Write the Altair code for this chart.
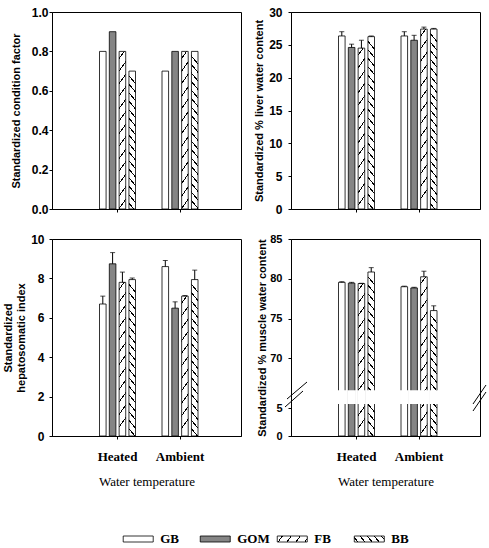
import altair as alt
import numpy as np
import pandas as pd

groups = ["Heated", "Ambient"]
series = ["GB", "GOM", "FB", "BB"]

cf_heated = [0.80, 0.90, 0.80, 0.70]
cf_ambient = [0.70, 0.80, 0.80, 0.80]

liver_heated = [26.35, 24.6, 24.5, 26.25]
liver_heated_se = [0.65, 0.5, 1.2, 0.1]
liver_ambient = [26.35, 25.7, 27.4, 27.4]
liver_ambient_se = [0.65, 0.75, 0.3, 0.1]

hsi_heated = [6.7, 8.74, 7.8, 7.94]
hsi_heated_se = [0.4, 0.57, 0.52, 0.08]
hsi_ambient = [8.6, 6.49, 7.1, 7.94]
hsi_ambient_se = [0.31, 0.32, 0.03, 0.48]

muscle_heated = [79.55, 79.45, 79.4, 80.85]
muscle_heated_se = [0.08, 0.1, 0.03, 0.55]
muscle_ambient = [79.0, 78.85, 80.25, 76.0]
muscle_ambient_se = [0.07, 0.08, 0.7, 0.6]

PW, PH = 189, 197
XPI, XPO, XALIGN = 0.424, 0.724, 0.525
OPI = 0.33
GOM_FILL = "#858585"
SANS = "Liberation Sans"
SERIF = "Liberation Serif"

# bar width in px (for hatch angle)
_step = PW / (2 - XPI + 2 * XPO)
_bw = _step * (1 - XPI)
BW = _bw / (4 - OPI) * (1 - OPI)

HATCH = {"FB": ("/", 12.5, 1.4), "BB": ("\\", 8.5, 1.2)}


def hatch(w, h, direction, spacing, k=1.0, lw=1.6):
    a = k * w / h
    x1, x2 = (0.0, a) if direction == "/" else (a, 0.0)
    norm = h * (1 + a * a)
    period = spacing / norm
    line = lw / norm
    stops = []
    t = period / 2
    stops.append((0.0, "white"))
    while t < 1.0:
        s1 = min(t + line, 1.0)
        stops += [(t, "white"), (t, "black"), (s1, "black"), (s1, "white")]
        t += period
    stops.append((1.0, "white"))
    return alt.LinearGradient(
        gradient="linear", x1=x1, y1=0, x2=x2, y2=1,
        stops=[alt.GradientStop(offset=round(o, 6), color=c) for o, c in stops],
    )


def frame(h, a, hse=None, ase=None):
    rows = []
    for g, vals, ses in [("Heated", h, hse), ("Ambient", a, ase)]:
        for i, s in enumerate(series):
            se = ses[i] if ses else 0.0
            rows.append({"group": g, "series": s, "value": vals[i],
                         "top": vals[i] + se, "se": se})
    return pd.DataFrame(rows)


def panel(df, dom, rng, ticks, title, fmt, bottom, label_size, label_pad,
          title_pad, gap=None, breaks=None):
    yscale = alt.Scale(domain=dom, range=rng, nice=False)
    xscale = alt.Scale(domain=groups, paddingInner=XPI, paddingOuter=XPO, align=XALIGN)
    oscale = alt.Scale(domain=series, paddingInner=OPI, paddingOuter=0)
    yaxis = alt.Axis(title=title, values=ticks, format=fmt, grid=False,
                     labelFont=SANS, labelFontWeight="bold", labelFontSize=label_size,
                     titleFont=SANS, titleFontWeight="bold", titleFontSize=11,
                     tickSize=3, labelPadding=label_pad, titlePadding=title_pad)
    if bottom:
        xaxis = alt.Axis(title="Water temperature", labelAngle=0, grid=False,
                         labelFont=SERIF, labelFontSize=13, labelFontWeight="bold",
                         titleFont=SERIF, titleFontSize=13, titleFontWeight="normal",
                         tickSize=3, labelPadding=11, titlePadding=12)
    else:
        xaxis = alt.Axis(title="", labels=False, tickSize=3, grid=False)

    enc = dict(
        x=alt.X("group:N", sort=groups, scale=xscale, axis=xaxis),
        xOffset=alt.XOffset("series:N", sort=series, scale=oscale),
    )

    def y(field):
        return alt.Y(f"{field}:Q", scale=yscale, axis=yaxis)

    def ypix(v):
        return float(np.interp(v, dom, rng))

    layers = []
    layers.append(
        alt.Chart(df).mark_bar(stroke="black", strokeWidth=0.8)
        .encode(**enc, y=y("value"),
                fill=alt.Fill("series:N", scale=alt.Scale(domain=["GB", "GOM"], range=["white", GOM_FILL]), legend=None))
        .transform_filter(alt.FieldOneOfPredicate(field="series", oneOf=["GB", "GOM"]))
    )
    for g in groups:
        for s in ["FB", "BB"]:
            v = float(df.loc[(df.group == g) & (df.series == s), "value"].iloc[0])
            h = ypix(dom[0]) - ypix(v)
            d, sp, k = HATCH[s]
            layers.append(
                alt.Chart(df).mark_bar(fill=hatch(BW, h, d, sp, k), stroke="black", strokeWidth=0.8)
                .encode(**enc, y=y("value"))
                .transform_filter((alt.datum.group == g) & (alt.datum.series == s))
            )
    if gap is not None:
        layers.append(
            alt.Chart(df).mark_bar(fill="white", stroke="white", strokeWidth=2)
            .encode(**enc, y=alt.YDatum(gap[1], type="quantitative", scale=yscale, axis=yaxis),
                    y2=alt.Y2Datum(gap[0]))
        )
    if (df.se > 0).any():
        edf = df[df.se > 0]
        layers.append(
            alt.Chart(edf).mark_rule(color="black", strokeWidth=1)
            .encode(**enc, y=y("value"), y2=alt.Y2("top:Q"))
        )
        layers.append(
            alt.Chart(edf).mark_tick(color="black", thickness=1, size=5)
            .encode(**enc, y=y("top"))
        )
    if breaks:
        one = pd.DataFrame({"k": [0]})
        for (xa, ya, xb, yb) in breaks:
            layers.append(
                alt.Chart(one).mark_rule(color="black", strokeWidth=1)
                .encode(x=alt.value(xa), y=alt.value(ya), x2=alt.value(xb), y2=alt.value(yb))
            )
    return alt.layer(*layers).properties(width=PW, height=PH)


p1 = panel(frame(cf_heated, cf_ambient), [0, 1], [PH, 0],
           [0, 0.2, 0.4, 0.6, 0.8, 1.0], "Standardized condition factor", ".1f",
           False, 12, 1, 10)
p2 = panel(frame(liver_heated, liver_ambient, liver_heated_se, liver_ambient_se),
           [0, 30], [PH, 0], [0, 5, 10, 15, 20, 25, 30],
           "Standardized % liver water content", "d", False, 12, 6, 4)
p3 = panel(frame(hsi_heated, hsi_ambient, hsi_heated_se, hsi_ambient_se),
           [0, 10], [PH, 0], [0, 2, 4, 6, 8, 10],
           ["Standardized", "hepatosomatic index"], "d", True, 12, 5, 4)
p4 = panel(frame(muscle_heated, muscle_ambient, muscle_heated_se, muscle_ambient_se),
           [0, 5, 70, 85], [PH, 169, 119.3, 0], [0, 5, 70, 75, 80, 85],
           "Standardized % muscle water content", "d", True, 11, 6, 2,
           gap=(11.4, 27),
           breaks=[(-4, 160, 16, 143), (-6, 168, 12, 152),
                   (182, 165, 195, 146), (182, 172, 195, 153)])

# legend (swatches placed on a point scale over the series names)
leg_df = pd.DataFrame({"series": series})
lx = alt.X("series:N", sort=series,
           scale=alt.Scale(type="point", domain=series, range=[47.7, 355.8]), axis=None)
SW_PATH = "M-1,-0.2L1,-0.2L1,0.2L-1,0.2Z"
LEG_Y = 73
leg_layers = []
for s in series:
    if s == "GB":
        f = "white"
    elif s == "GOM":
        f = GOM_FILL
    else:
        d, sp, k = HATCH[s]
        f = hatch(30, 6, d, sp, k)
    leg_layers.append(
        alt.Chart(leg_df).mark_point(shape=SW_PATH, size=900, filled=True, fill=f,
                                     stroke="black", strokeWidth=0.8, opacity=1)
        .encode(x=lx, y=alt.value(LEG_Y))
        .transform_filter(alt.datum.series == s)
    )
leg_layers.append(
    alt.Chart(leg_df).mark_text(align="left", dx=22, font=SERIF, fontSize=13,
                                fontWeight="bold", color="black")
    .encode(x=lx, y=alt.value(LEG_Y), text="series:N")
)
legend = alt.layer(*leg_layers).properties(
    width=PW, height=76, view=alt.ViewBackground(stroke="transparent"))

chart = (
    alt.concat(p1, p2, p3, p4, legend, columns=2,
               spacing={"row": 30, "column": 50}, bounds="flush")
    .properties(padding={"left": 2, "top": 5, "right": 0, "bottom": 0}, background="white")
    .configure_view(stroke="black", strokeWidth=1)
    .configure_axis(domainColor="black", tickColor="black", labelColor="black",
                    titleColor="black", domainWidth=1, tickWidth=1)
)
chart.save("out.html", embed_options={"renderer": "svg", "actions": False})
